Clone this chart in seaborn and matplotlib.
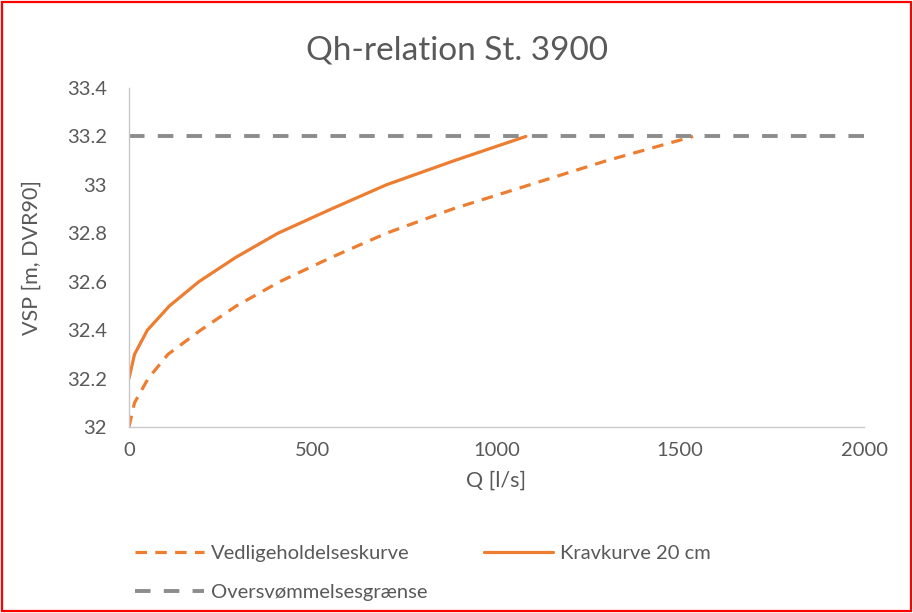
import matplotlib
matplotlib.use("Agg")
import matplotlib.pyplot as plt
import seaborn as sns
import pandas as pd
from matplotlib.patches import Rectangle

# Qh data
q_vedl = [0, 15, 52, 106, 195, 292, 410, 550, 700, 880, 1090, 1300, 1535]
h_vedl = [32.0, 32.1, 32.2, 32.3, 32.4, 32.5, 32.6, 32.7, 32.8, 32.9, 33.0, 33.1, 33.2]

q_krav = [0, 15, 50, 110, 190, 290, 405, 550, 700, 885, 1080]
h_krav = [32.2, 32.3, 32.4, 32.5, 32.6, 32.7, 32.8, 32.9, 33.0, 33.1, 33.2]

q_over = [0, 2000]
h_over = [33.2, 33.2]

labels = ["Vedligeholdelseskurve", "Kravkurve 20 cm", "Oversvømmelsesgrænse"]
orange = "#ED7D31"
grey = "#8C8C8C"
txt = "#595959"

sns.set_style("white")
plt.rcParams["font.family"] = ["Lato", "DejaVu Sans"]

fig = plt.figure(figsize=(9.13, 6.13), dpi=100)
ax = fig.add_axes([129 / 913, 1 - 427 / 613, 735 / 913, 339 / 613])

df_v = pd.DataFrame({"Q": q_vedl, "h": h_vedl})
df_k = pd.DataFrame({"Q": q_krav, "h": h_krav})
df_o = pd.DataFrame({"Q": q_over, "h": h_over})

sns.lineplot(data=df_v, x="Q", y="h", ax=ax, color=orange, lw=2.3,
             label=labels[0], sort=False)
ax.lines[-1].set_dashes((3.6, 2.6))
sns.lineplot(data=df_k, x="Q", y="h", ax=ax, color=orange, lw=2.3,
             label=labels[1], sort=False)
sns.lineplot(data=df_o, x="Q", y="h", ax=ax, color=grey, lw=2.8,
             label=labels[2], sort=False)
ax.lines[-1].set_dashes((4.0, 3.4))

ax.set_xlim(0, 2000)
ax.set_ylim(32, 33.4)
ax.set_xticks([0, 500, 1000, 1500, 2000])
ax.set_yticks([32, 32.2, 32.4, 32.6, 32.8, 33, 33.2, 33.4])
ax.set_yticklabels(["32", "32.2", "32.4", "32.6", "32.8", "33", "33.2", "33.4"])
ax.tick_params(axis="both", length=0, labelsize=14.5, colors=txt)
ax.tick_params(axis="y", pad=16)
ax.tick_params(axis="x", pad=11)

for s in ["top", "right"]:
    ax.spines[s].set_visible(False)
for s in ["left", "bottom"]:
    ax.spines[s].set_color("#C8C8C8")
    ax.spines[s].set_linewidth(1)

ax.set_xlabel("Q [l/s]", fontsize=15.5, color=txt, labelpad=8)
ax.set_ylabel("VSP [m, DVR90]", fontsize=15.5, color=txt, labelpad=18)
fig.text(0.5, 1 - 51 / 613, "Qh-relation St. 3900", ha="center", va="center",
         fontsize=24, color=txt)

handles, lbls = ax.get_legend_handles_labels()
ax.get_legend().remove()
order = [0, 2, 1]
fig.legend([handles[i] for i in order], [lbls[i] for i in order],
           loc="upper left", bbox_to_anchor=(117 / 913, 1 - 527 / 613),
           ncol=2, frameon=False, fontsize=14.5, labelcolor=txt,
           handlelength=3.43, handletextpad=0.35, columnspacing=2.78,
           labelspacing=1.1)

fig.patches.append(Rectangle((0.002, 0.003), 0.996, 0.994, transform=fig.transFigure,
                             fill=False, edgecolor="#FF0000", lw=1.6))

fig.savefig("out.png", dpi=100)
